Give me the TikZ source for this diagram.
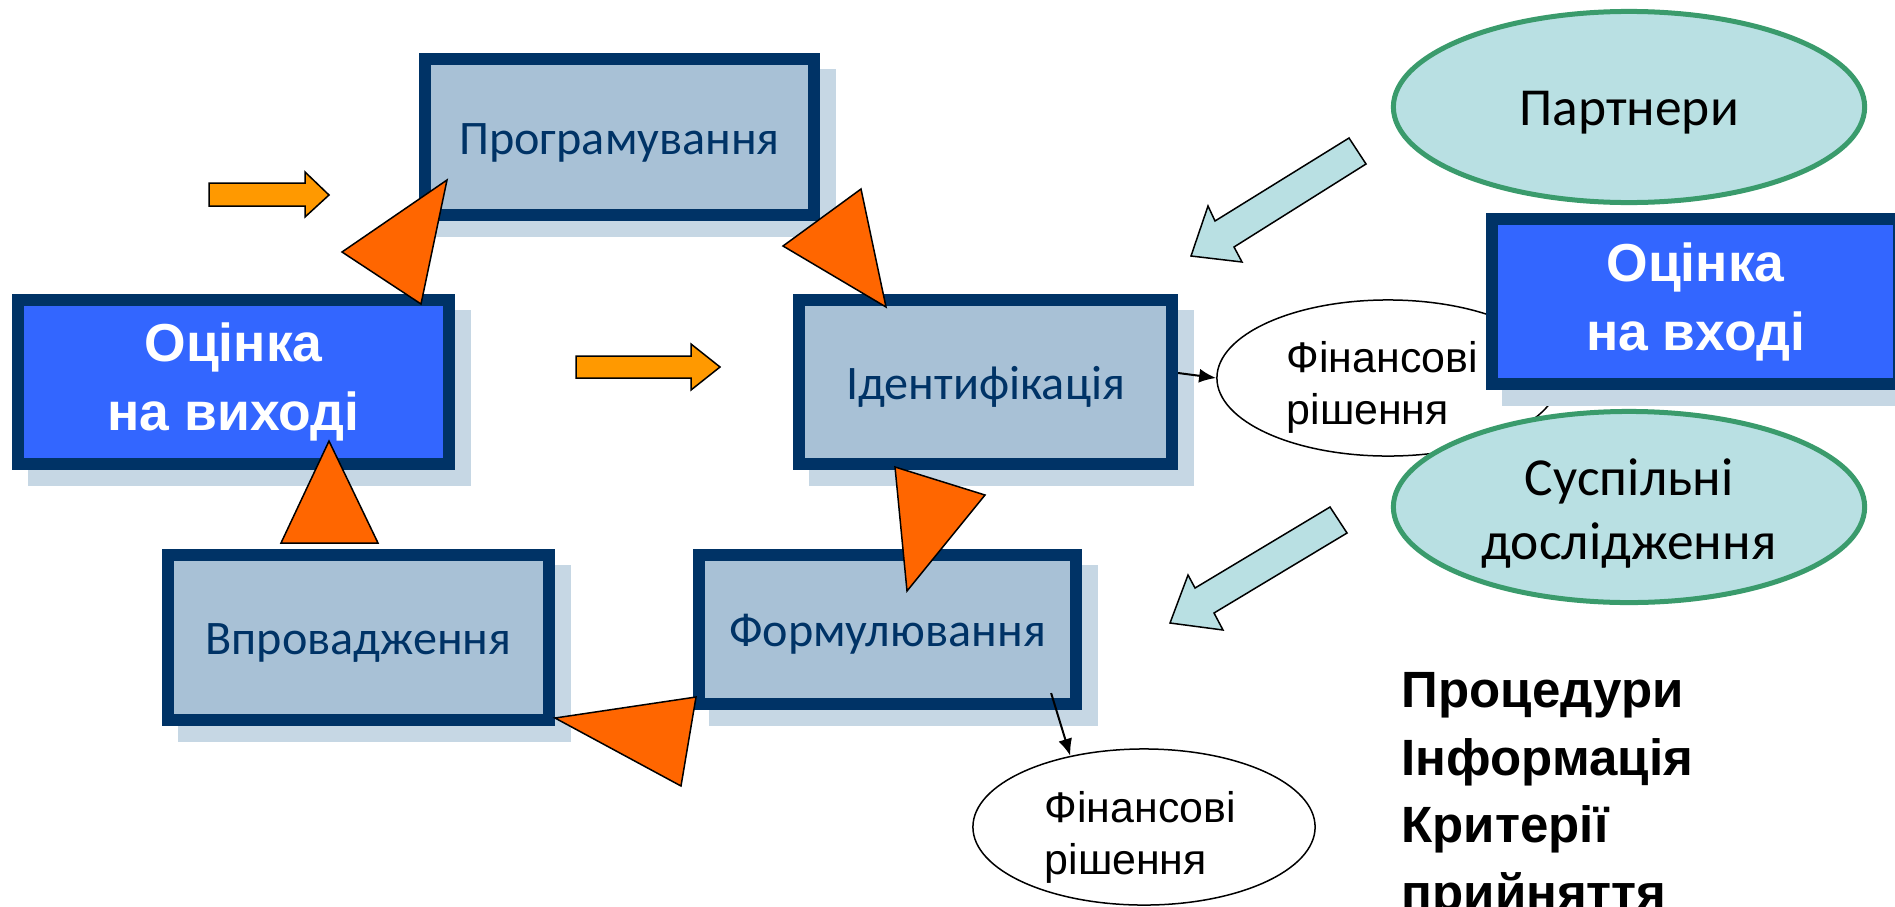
\documentclass[tikz,border=0pt]{standalone}
\usepackage{fontspec}
\setmainfont{Liberation Sans}
\newfontfamily\calfont{Carlito}
\usetikzlibrary{arrows.meta,shapes.geometric,shadows}
\definecolor{navy}{RGB}{0,51,102}
\definecolor{boxfill}{RGB}{168,193,214}
\definecolor{shadowc}{RGB}{198,215,228}
\definecolor{brightblue}{RGB}{51,102,255}
\definecolor{tealfill}{RGB}{185,224,227}
\definecolor{greenline}{RGB}{58,155,108}
\definecolor{orangetri}{RGB}{255,102,0}
\definecolor{orangearr}{RGB}{255,153,0}
\begin{document}
\begin{tikzpicture}[x=0.01cm,y=-0.01cm,
  boxshadow/.style={drop shadow={shadow xshift=0.16cm,shadow yshift=-0.16cm,fill=shadowc,draw=shadowc,line width=0.12cm,opacity=1}},
  stagebox/.style={boxshadow,draw=navy,line width=0.12cm,fill=boxfill,inner sep=0pt,
    text height=0.40cm,text depth=0.06cm,
    text=navy,font=\calfont\fontsize{13.7}{16}\selectfont},
  evalbox/.style={boxshadow,draw=navy,line width=0.12cm,fill=brightblue,inner sep=0pt,
    text=white,align=center,font=\bfseries\fontsize{15.2}{19.6}\selectfont},
  actor/.style={ellipse,draw=greenline,line width=0.05cm,fill=tealfill,inner sep=0pt,
    minimum width=4.71cm,minimum height=1.91cm,
    font=\calfont\fontsize{15.2}{18.2}\selectfont},
  actortext/.style={anchor=north,inner sep=0pt,align=center,
    font=\calfont\fontsize{15.2}{18.2}\selectfont},
  decision/.style={ellipse,draw=black,line width=0.015cm,fill=white,inner sep=0pt,
    minimum width=3.42cm,minimum height=1.56cm},
  dectext/.style={anchor=north west,inner sep=0pt,align=left,
    font=\fontsize{12.2}{14.8}\selectfont},
  tri/.style={draw=black,line width=0.015cm,fill=orangetri,line join=miter},
  blockarr/.style={draw=black,line width=0.015cm,fill=orangearr},
  inarr/.style={draw=black,line width=0.015cm,fill=tealfill},
  conn/.style={draw=black,line width=0.02cm,-{Latex[length=0.17cm,width=0.14cm]}}]
\useasboundingbox (0,0) rectangle (1895,906);
\clip (0,0) rectangle (1895,906);

% decision ellipse behind the right evaluation box
\node[decision] (fin1) at (1388,378) {};
\node[dectext] (fin1t) at ([shift={(-1.02cm,0.37cm)}]fin1.center) {Фінансові\\рішення};

% stage boxes
\node[stagebox,minimum width=3.89cm,minimum height=1.56cm] (prog) at (619.5,137) {Програмування};
\node[stagebox,minimum width=3.73cm,minimum height=1.64cm] (ident) at (985.5,382) {Ідентифікація};
\node[stagebox,minimum width=3.81cm,minimum height=1.65cm] (vpro) at (358.5,637.5) {Впровадження};
\node[stagebox,minimum width=3.77cm,minimum height=1.49cm] (form) at (887.5,629.5) {Формулювання};

% evaluation boxes
\node[evalbox,minimum width=4.31cm,minimum height=1.64cm] (outeval) at (233.5,382) {Оцінка\\на виході};
\node[evalbox,minimum width=4.07cm,minimum height=1.65cm] (ineval) at (1695.5,301.5) {Оцінка\\на вході};

% actors
\node[actor,text height=0.42cm,text depth=0.06cm] (partn) at (1629,107) {Партнери};
\node[actor] (social) at (1629,507) {};
\node[actortext] (socialt) at ([yshift=0.49cm]social.center) {Суспільні\\дослідження};

% lower decision ellipse
\node[decision] (fin2) at (1144,827) {};
\node[dectext] (fin2t) at ([shift={(-1.00cm,0.36cm)}]fin2.center) {Фінансові\\рішення};

% cycle triangles
\draw[tri] (447,180) -- (342,252) -- (421,304) -- cycle;
\draw[tri] (861,189) -- (783,246) -- (886,307) -- cycle;
\draw[tri] (895,467) -- (985,495) -- (907,591) -- cycle;
\draw[tri] (555,718) -- (696,697) -- (681,786) -- cycle;
\draw[tri] (329,441) -- (281,543) -- (378,543) -- cycle;

% orange block arrows
\draw[blockarr] (209,183) -- (305,183) -- (305,172) -- (329,195) -- (305,217) -- (305,206) -- (209,206) -- cycle;
\draw[blockarr] (576,356) -- (691,356) -- (691,344) -- (720,367) -- (691,390) -- (691,378) -- (576,378) -- cycle;

% teal input arrows
\draw[inarr] (1349,138) -- (1366,164) -- (1234,247) -- (1242,262) -- (1191,256) -- (1208,206) -- (1215,221) -- cycle;
\draw[inarr] (1330,507) -- (1347,533) -- (1214,613) -- (1223,630) -- (1170,623) -- (1188,575) -- (1195,588) -- cycle;

% connectors
\draw[conn] ([yshift=0.09cm]ident.east) -- (fin1.west);
\draw[conn] ([shift={(-0.31cm,0.17cm)}]form.south east) -- (fin2.136);

% criteria list
\node[anchor=north west,inner sep=0pt,align=left,font=\bfseries\fontsize{14.5}{19.2}\selectfont] (crit) at (1401,672)
  {Процедури\\Інформація\\Критерії\\прийняття};
\end{tikzpicture}
\end{document}
